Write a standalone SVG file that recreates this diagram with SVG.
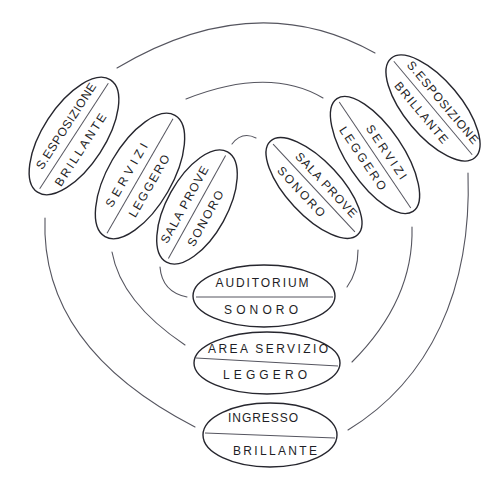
<svg xmlns="http://www.w3.org/2000/svg" width="500" height="480" viewBox="0 0 500 480">
<style>
.bg{fill:#ffffff}
.ring{fill:none;stroke:#55555f;stroke-width:1.1;stroke-linecap:round}
.node ellipse{fill:#ffffff;stroke:#26262e;stroke-width:1.4}
.node line{stroke:#55555f;stroke-width:1}
.node text{font-family:"Liberation Sans",Arial,sans-serif;font-size:12px;fill:#1e1e26;text-anchor:middle}
</style>
<rect class="bg" x="0" y="0" width="500" height="480"/>
<g id="rings">
<path class="ring" d="M117,68 Q255,-14 375,53"/>
<path class="ring" d="M45,218 Q40,347 195,427"/>
<path class="ring" d="M468,173 C472,290 430,380 348,430"/>
<path class="ring" d="M186,99 Q269,66 323,98"/>
<path class="ring" d="M112,252 Q121,302 185,345"/>
<path class="ring" d="M412,227 Q414,300 352,362"/>
<path class="ring" d="M232,144 Q242,131 256,138"/>
<path class="ring" d="M160,267 Q162,292 187,297"/>
<path class="ring" d="M358,250 Q358,272 347,287"/>
</g>
<g id="l-esposizione" class="node" transform="translate(74,136) rotate(-57)">
<ellipse cx="0" cy="0" rx="67" ry="31"/>
<line x1="-63" y1="0" x2="63" y2="0"/>
<text x="4" y="-8" textLength="100" lengthAdjust="spacing">S.ESPOSIZIONE</text>
<text x="-8" y="17" textLength="84" lengthAdjust="spacing">BRILLANTE</text>
</g>
<g id="l-servizi" class="node" transform="translate(140,176) rotate(-60)">
<ellipse cx="0" cy="0" rx="70" ry="32"/>
<line x1="-66" y1="0" x2="66" y2="0"/>
<text x="-6" y="-8" textLength="72" lengthAdjust="spacing">SERVIZI</text>
<text x="-4" y="17" textLength="70" lengthAdjust="spacing">LEGGERO</text>
</g>
<g id="l-salaprove" class="node" transform="translate(197,207) rotate(-61)">
<ellipse cx="0" cy="0" rx="63" ry="30"/>
<line x1="-59" y1="0" x2="59" y2="0"/>
<text x="-4" y="-8" textLength="86" lengthAdjust="spacing">SALA PROVE</text>
<text x="-6" y="17" textLength="62" lengthAdjust="spacing">SONORO</text>
</g>
<g id="r-esposizione" class="node" transform="translate(433,108) rotate(50)">
<ellipse cx="0" cy="0" rx="65" ry="28"/>
<line x1="-61" y1="0" x2="61" y2="0"/>
<text x="2" y="-7" textLength="104" lengthAdjust="spacing">S.ESPOSIZIONE</text>
<text x="-4" y="16" textLength="76" lengthAdjust="spacing">BRILLANTE</text>
</g>
<g id="r-servizi" class="node" transform="translate(375,155) rotate(56)">
<ellipse cx="0" cy="0" rx="68" ry="28"/>
<line x1="-64" y1="0" x2="64" y2="0"/>
<text x="4" y="-7" textLength="63" lengthAdjust="spacing">SERVIZI</text>
<text x="-4" y="16" textLength="74" lengthAdjust="spacing">LEGGERO</text>
</g>
<g id="r-salaprove" class="node" transform="translate(314,188) rotate(47)">
<ellipse cx="0" cy="0" rx="64" ry="27"/>
<line x1="-60" y1="0" x2="60" y2="0"/>
<text x="6" y="-7" textLength="84" lengthAdjust="spacing">SALA PROVE</text>
<text x="-6" y="16" textLength="64" lengthAdjust="spacing">SONORO</text>
</g>
<g id="auditorium" class="node">
<ellipse cx="264" cy="296" rx="71" ry="31"/>
<line x1="196" y1="297" x2="333" y2="297"/>
<text x="262" y="287" textLength="93" lengthAdjust="spacing">AUDITORIUM</text>
<text x="261" y="314" textLength="74" lengthAdjust="spacing">SONORO</text>
</g>
<g id="area-servizio" class="node">
<ellipse cx="267" cy="363" rx="73" ry="31"/>
<line x1="196" y1="358" x2="338" y2="366"/>
<text x="268" y="353" textLength="120" lengthAdjust="spacing">AREA SERVIZIO</text>
<text x="265" y="379" textLength="84" lengthAdjust="spacing">LEGGERO</text>
</g>
<g id="ingresso" class="node">
<ellipse cx="270" cy="435" rx="67" ry="32"/>
<line x1="205" y1="433" x2="335" y2="438"/>
<text x="263" y="422" textLength="70" lengthAdjust="spacing">INGRESSO</text>
<text x="275" y="455" textLength="84" lengthAdjust="spacing">BRILLANTE</text>
</g>
</svg>
